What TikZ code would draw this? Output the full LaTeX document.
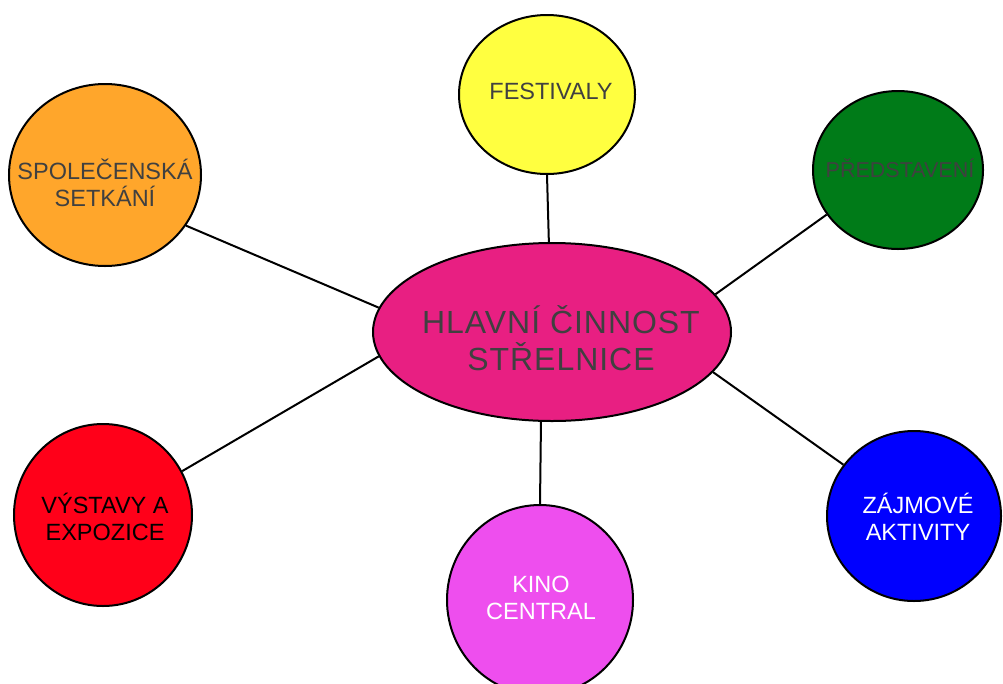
\documentclass[tikz,border=0pt]{standalone}
\usepackage{fontspec}
\setmainfont{Liberation Sans}
\newfontfamily\centerfont[LetterSpace=3]{Liberation Sans}
\usetikzlibrary{shapes.geometric}
\definecolor{cOrange}{RGB}{255,166,43}
\definecolor{cYellow}{RGB}{255,255,64}
\definecolor{cGreen}{RGB}{0,123,24}
\definecolor{cBlue}{RGB}{0,0,255}
\definecolor{cKino}{RGB}{238,78,238}
\definecolor{cRed}{RGB}{255,0,25}
\definecolor{cMain}{RGB}{232,31,130}
\definecolor{cText}{RGB}{64,64,64}
\begin{document}
\begin{tikzpicture}[x=1pt,y=-1pt,
  bubble/.style={ellipse, draw=black, line width=2pt, inner sep=0pt},
  lbl/.style={align=center, inner sep=0pt, font=\fontsize{23.5}{27.5}\selectfont},
  link/.style={line width=2pt, draw=black}]
\useasboundingbox (0,0) rectangle (1003,683);
% bubbles
\node[bubble, fill=cMain, minimum width=358pt, minimum height=178pt] (main) at (552,332) {};
\node[bubble, fill=cYellow, minimum width=176pt, minimum height=159pt] (fest) at (547,94.5) {};
\node[bubble, fill=cGreen, minimum width=170pt, minimum height=158pt] (pred) at (898,170) {};
\node[bubble, fill=cOrange, minimum width=192pt, minimum height=182pt] (spol) at (105,175) {};
\node[bubble, fill=cRed, minimum width=178pt, minimum height=182pt] (vyst) at (103,515) {};
\node[bubble, fill=cKino, minimum width=186pt, minimum height=190pt] (kino) at (540,600) {};
\node[bubble, fill=cBlue, minimum width=174pt, minimum height=170pt] (zajm) at (914,516) {};
% connectors
\draw[link] (main.172) -- (spol.-32);
\draw[link] (main.188) -- (vyst.29.5);
\draw[link] (main.92.5) -- (fest.south);
\draw[link] (main.263) -- (kino.north);
\draw[link] (main.13.5) -- (pred.212);
\draw[link] (main.-14.3) -- (zajm.144);
% labels
\node[lbl, text=cText, font=\centerfont\fontsize{32}{36.5}\selectfont] (tmain) at (561,338) {HLAVNÍ ČINNOST\\STŘELNICE};
\node[lbl, text=cText] (tfest) at (551,91) {FESTIVALY};
\node[lbl, text=cText, font=\fontsize{21.5}{26}\selectfont] (tpred) at (900,168.5) {PŘEDSTAVENÍ};
\node[lbl, text=cText] (tspol) at (105,183) {SPOLEČENSKÁ\\SETKÁNÍ};
\node[lbl, text=black] (tvyst) at (105,517) {VÝSTAVY A\\EXPOZICE};
\node[lbl, text=white] (tzajm) at (918,517) {ZÁJMOVÉ\\AKTIVITY};
\node[lbl, text=white] (tkino) at (541,598) {KINO\\CENTRAL};
\end{tikzpicture}
\end{document}
